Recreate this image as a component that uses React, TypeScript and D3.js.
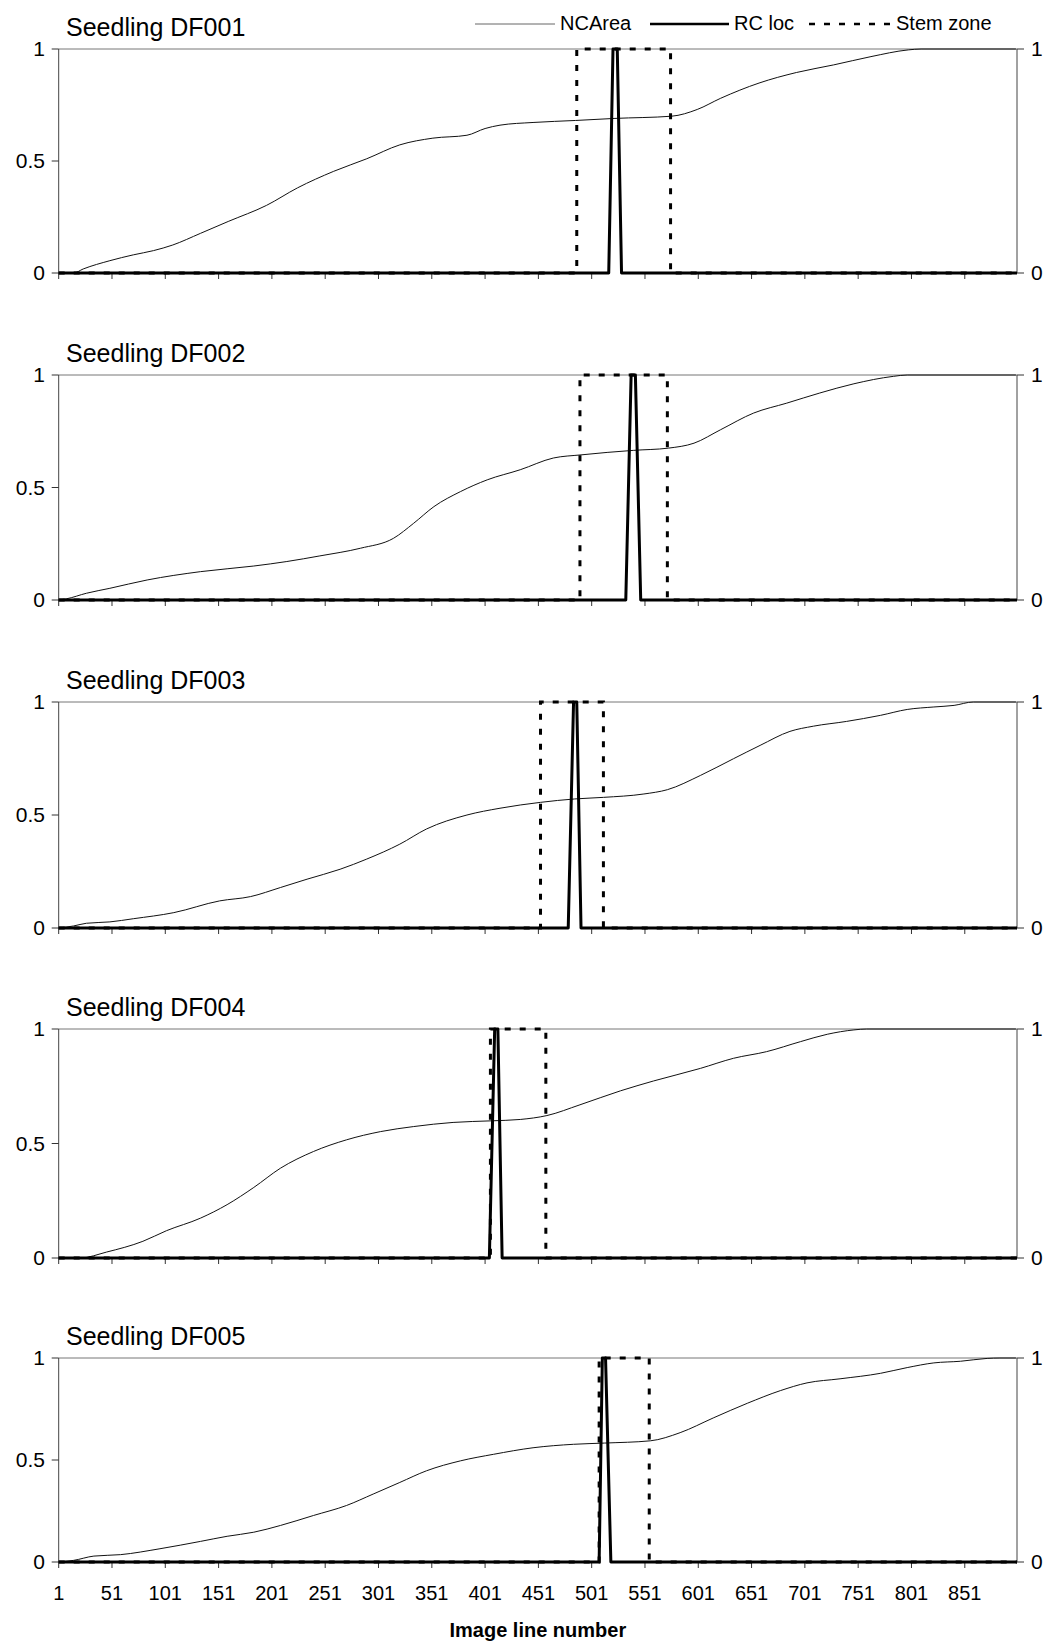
import * as d3 from "d3";

const seedlings = ["Seedling DF001", "Seedling DF002", "Seedling DF003", "Seedling DF004", "Seedling DF005"];

// NCArea cumulative curves, [image line, fraction]
const ncArea001: [number, number][] = [
  [1, 0], [15, 0], [24, 0.018], [49, 0.055], [71, 0.081], [90, 0.1], [108, 0.125], [134, 0.177],
  [160, 0.23], [196, 0.302], [225, 0.38], [259, 0.454], [290, 0.51], [321, 0.572], [352, 0.602],
  [384, 0.615], [401, 0.645], [415, 0.66], [446, 0.672], [486, 0.681], [522, 0.69], [576, 0.7],
  [600, 0.73], [622, 0.78], [658, 0.848], [693, 0.895], [728, 0.929], [763, 0.966], [798, 0.996],
  [810, 1], [899, 1],
];
const ncArea002: [number, number][] = [
  [1, 0], [8, 0.005], [27, 0.03], [49, 0.052], [84, 0.089], [134, 0.126], [184, 0.151], [215, 0.171],
  [246, 0.196], [284, 0.23], [315, 0.274], [334, 0.341], [353, 0.415], [378, 0.482], [403, 0.534],
  [434, 0.579], [465, 0.631], [491, 0.645], [540, 0.665], [573, 0.675], [597, 0.697], [622, 0.757],
  [653, 0.831], [684, 0.875], [715, 0.92], [747, 0.961], [784, 0.994], [797, 1], [899, 1],
];
const ncArea003: [number, number][] = [
  [1, 0], [15, 0.009], [27, 0.021], [49, 0.027], [71, 0.041], [109, 0.068], [152, 0.12], [181, 0.139],
  [209, 0.179], [234, 0.216], [265, 0.26], [290, 0.305], [321, 0.371], [346, 0.438], [384, 0.5],
  [415, 0.53], [453, 0.556], [485, 0.571], [512, 0.578], [550, 0.593], [572, 0.612], [603, 0.675],
  [634, 0.749], [659, 0.808], [687, 0.87], [709, 0.893], [740, 0.914], [772, 0.941], [797, 0.967],
  [822, 0.978], [841, 0.985], [859, 1], [899, 1],
];
const ncArea004: [number, number][] = [
  [1, 0], [21, 0], [46, 0.026], [80, 0.073], [102, 0.119], [134, 0.174], [159, 0.233], [184, 0.308],
  [209, 0.392], [240, 0.465], [271, 0.516], [303, 0.552], [334, 0.574], [371, 0.592], [407, 0.599],
  [434, 0.605], [459, 0.622], [490, 0.669], [528, 0.73], [559, 0.773], [603, 0.828], [634, 0.872],
  [665, 0.901], [697, 0.945], [722, 0.977], [747, 0.996], [759, 1], [899, 1],
];
const ncArea005: [number, number][] = [
  [1, 0], [15, 0.008], [34, 0.029], [59, 0.036], [96, 0.065], [134, 0.101], [159, 0.126], [184, 0.146],
  [209, 0.179], [240, 0.228], [271, 0.277], [296, 0.333], [321, 0.39], [346, 0.447], [378, 0.496],
  [409, 0.528], [446, 0.56], [484, 0.577], [513, 0.583], [556, 0.594], [584, 0.634], [615, 0.706],
  [647, 0.778], [678, 0.84], [703, 0.878], [734, 0.898], [772, 0.925], [797, 0.953], [822, 0.976],
  [847, 0.984], [872, 0.998], [884, 1], [899, 1],
];
const ncAreaSeries = [ncArea001, ncArea002, ncArea003, ncArea004, ncArea005];

// RC loc pulse: [rise start, top start, top end, fall end] (image lines)
const rcLoc = [
  [517, 521, 525, 529],
  [533, 538, 542, 547],
  [479, 484, 487, 491],
  [405, 410, 413, 417],
  [508, 511, 514, 519],
];

// Stem zone: [start, end] (image lines)
const stemZone = [
  [487, 575],
  [490, 572],
  [453, 512],
  [406, 458],
  [508, 555],
];

const lineCount = 900;
const xTicks = d3.range(1, 852, 50);
const leftTicks = [0, 0.5, 1];
const rightTicks = [0, 1];

const width = 1044;
const height = 1644;
const plotLeft = 58.7;
const plotRight = 1017;
const panelTops = [49, 375, 702, 1029, 1358];
const panelBottoms = [273, 600, 928, 1258, 1562];
const font = "'Liberation Sans', Arial, sans-serif";

export default function App() {
  const x = d3.scaleLinear().domain([1, lineCount]).range([plotLeft, plotRight]);

  return (
    <svg width={width} height={height} style={{ display: "block", background: "#fff" }}>
      <style>{`body{margin:0}`}</style>

      {/* legend */}
      <g fontFamily={font} fontSize={20} fill="#000">
        <line x1={475} x2={555} y1={24} y2={24} stroke="#666" strokeWidth={1} />
        <text x={560} y={30}>NCArea</text>
        <line x1={650} x2={729} y1={24} y2={24} stroke="#000" strokeWidth={2.5} />
        <text x={734} y={30}>RC loc</text>
        <line x1={809} x2={893} y1={24} y2={24} stroke="#000" strokeWidth={2.5} strokeDasharray="6 9" />
        <text x={896} y={30}>Stem zone</text>
      </g>

      {seedlings.map((title, i) => {
        const top = panelTops[i];
        const bottom = panelBottoms[i];
        const y = d3.scaleLinear().domain([0, 1]).range([bottom, top]);
        const line = d3
          .line<[number, number]>()
          .x((d) => x(d[0]))
          .y((d) => y(d[1]));
        const smooth = d3
          .line<[number, number]>()
          .x((d) => x(d[0]))
          .y((d) => y(d[1]))
          .curve(d3.curveMonotoneX);

        const [r0, r1, r2, r3] = rcLoc[i];
        const rcPts: [number, number][] = [[1, 0], [r0, 0], [r1, 1], [r2, 1], [r3, 0], [lineCount, 0]];
        const [s0, s1] = stemZone[i];
        const stemPts: [number, number][] = [[1, 0], [s0, 0], [s0, 1], [s1, 1], [s1, 0], [lineCount, 0]];

        return (
          <g key={title} fontFamily={font}>
            <text x={66} y={top - 13} fontSize={25}>{title}</text>

            {/* plot frame */}
            <line x1={plotLeft} x2={plotRight} y1={top} y2={top} stroke="#777" strokeWidth={1} />
            <line x1={plotLeft} x2={plotLeft} y1={top} y2={bottom} stroke="#444" strokeWidth={1} />
            <line x1={plotRight} x2={plotRight} y1={top} y2={bottom} stroke="#444" strokeWidth={1} />

            {/* left axis */}
            {leftTicks.map((t) => (
              <g key={t}>
                <line x1={plotLeft - 7} x2={plotLeft} y1={y(t)} y2={y(t)} stroke="#333" />
                <text x={45} y={y(t)} dy="0.35em" textAnchor="end" fontSize={21}>{t}</text>
              </g>
            ))}
            {/* right axis */}
            {rightTicks.map((t) => (
              <g key={t}>
                <line x1={plotRight} x2={plotRight + 7} y1={y(t)} y2={y(t)} stroke="#333" />
                <text x={1031} y={y(t)} dy="0.35em" textAnchor="start" fontSize={21}>{t}</text>
              </g>
            ))}

            {/* x ticks */}
            {xTicks.map((t) => (
              <line key={t} x1={x(t)} x2={x(t)} y1={bottom} y2={bottom + 6} stroke="#333" />
            ))}
            {i === seedlings.length - 1 &&
              xTicks.map((t) => (
                <text key={t} x={x(t)} y={bottom + 38} textAnchor="middle" fontSize={20}>{t}</text>
              ))}

            <path d={smooth(ncAreaSeries[i]) ?? ""} fill="none" stroke="#111" strokeWidth={1} />
            <path d={line(stemPts) ?? ""} fill="none" stroke="#000" strokeWidth={3} strokeDasharray="6 9" />
            <path d={line(rcPts) ?? ""} fill="none" stroke="#000" strokeWidth={3} strokeLinejoin="round" />
          </g>
        );
      })}

      <text
        x={(plotLeft + plotRight) / 2}
        y={1637}
        textAnchor="middle"
        fontFamily={font}
        fontSize={20}
        fontWeight="bold"
      >
        Image line number
      </text>
    </svg>
  );
}
